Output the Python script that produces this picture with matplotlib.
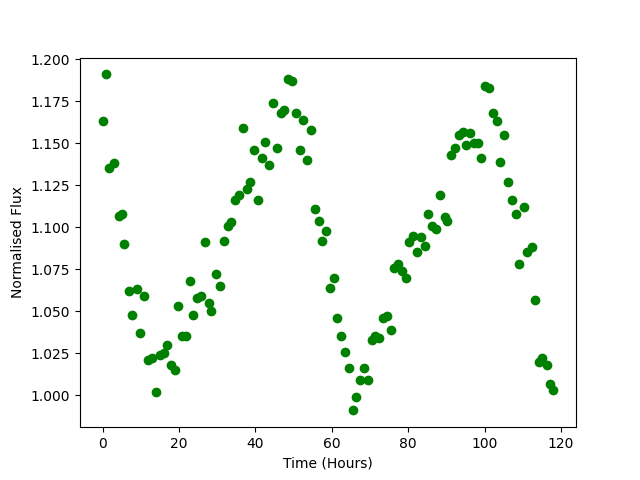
import matplotlib
matplotlib.use('Agg')
import matplotlib.pyplot as plt

# time (hours) and normalised flux
time = [0.0, 0.8, 1.8, 2.9, 4.2, 5.0, 5.7, 6.8, 7.8, 8.9,
        9.7, 10.8, 11.8, 12.9, 13.9, 15.0, 16.0, 16.8, 17.8, 18.9,
        19.7, 20.7, 21.8, 22.8, 23.6, 24.6, 25.7, 26.7, 27.8, 28.5,
        29.6, 30.7, 31.8, 32.8, 33.6, 34.6, 35.7, 36.7, 37.8, 38.6,
        39.6, 40.6, 41.7, 42.5, 43.5, 44.6, 45.6, 46.6, 47.4, 48.5,
        49.6, 50.7, 51.7, 52.5, 53.5, 54.6, 55.6, 56.7, 57.4, 58.5,
        59.5, 60.6, 61.3, 62.4, 63.4, 64.5, 65.5, 66.3, 67.3, 68.4,
        69.5, 70.6, 71.4, 72.4, 73.4, 74.5, 75.5, 76.3, 77.4, 78.4,
        79.4, 80.2, 81.3, 82.3, 83.4, 84.4, 85.2, 86.2, 87.3, 88.3,
        89.5, 90.2, 91.3, 92.3, 93.4, 94.4, 95.2, 96.2, 97.3, 98.3,
        99.1, 100.2, 101.2, 102.2, 103.3, 104.1, 105.1, 106.2, 107.2, 108.3,
        109.1, 110.2, 111.2, 112.3, 113.3, 114.1, 115.1, 116.2, 117.2, 118.0]
flux = [1.163, 1.191, 1.135, 1.138, 1.107, 1.108, 1.090, 1.062, 1.048, 1.063,
        1.037, 1.059, 1.021, 1.022, 1.002, 1.024, 1.025, 1.030, 1.018, 1.015,
        1.053, 1.035, 1.035, 1.068, 1.048, 1.058, 1.059, 1.091, 1.055, 1.050,
        1.072, 1.065, 1.092, 1.101, 1.103, 1.116, 1.119, 1.159, 1.123, 1.127,
        1.146, 1.116, 1.141, 1.151, 1.137, 1.174, 1.147, 1.168, 1.170, 1.188,
        1.187, 1.168, 1.146, 1.164, 1.140, 1.158, 1.111, 1.104, 1.092, 1.098,
        1.064, 1.070, 1.046, 1.035, 1.026, 1.016, 0.991, 0.999, 1.009, 1.016,
        1.009, 1.033, 1.035, 1.034, 1.046, 1.047, 1.039, 1.076, 1.078, 1.074,
        1.070, 1.091, 1.095, 1.085, 1.094, 1.089, 1.108, 1.101, 1.099, 1.119,
        1.106, 1.104, 1.143, 1.147, 1.155, 1.157, 1.149, 1.156, 1.150, 1.150,
        1.141, 1.184, 1.183, 1.168, 1.163, 1.139, 1.155, 1.127, 1.116, 1.108,
        1.078, 1.112, 1.085, 1.088, 1.057, 1.020, 1.022, 1.018, 1.007, 1.003]

fig, ax = plt.subplots(figsize=(6.4, 4.8), dpi=100)
ax.plot(time, flux, 'go')
ax.set_xlabel('Time (Hours)')
ax.set_ylabel('Normalised Flux')

fig.savefig('out.png')
